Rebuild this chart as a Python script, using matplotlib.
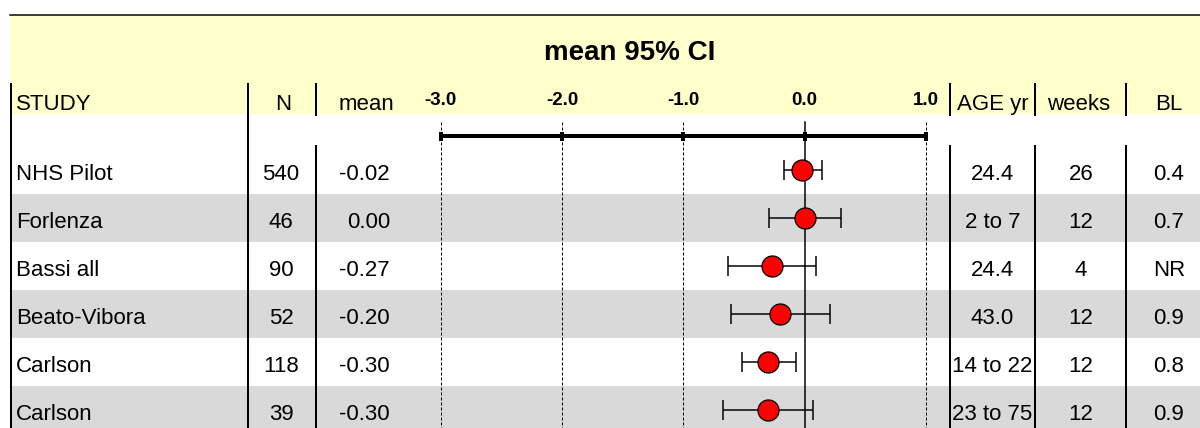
import matplotlib
matplotlib.use("Agg")
import matplotlib.pyplot as plt
from matplotlib.patches import Rectangle

plt.rcParams['font.family'] = ['Liberation Sans', 'DejaVu Sans']

# ---------------- data ----------------
studies = ["NHS Pilot", "Forlenza", "Bassi all", "Beato-Vibora", "Carlson", "Carlson"]
n_vals = ["540", "46", "90", "52", "118", "39"]
means = [-0.02, 0.00, -0.27, -0.20, -0.30, -0.30]
ci_lo = [-0.17, -0.29, -0.63, -0.61, -0.52, -0.67]
ci_hi = [0.14, 0.30, 0.09, 0.21, -0.07, 0.07]
age = ["24.4", "2 to 7", "24.4", "43.0", "14 to 22", "23 to 75"]
weeks = ["26", "12", "4", "12", "12", "12"]
bl = ["0.4", "0.7", "NR", "0.9", "0.8", "0.9"]
ticks = [-3.0, -2.0, -1.0, 0.0, 1.0]
title = "mean 95% CI"
headers = ["STUDY", "N", "mean", "AGE yr", "weeks", "BL"]

# ---------------- layout (pixels) ----------------
W, H = 1200, 428
row0 = 170.0      # centre of first study row
rowh = 48.0
fs = 16
PX = 0.72         # points per pixel at 100 dpi

fig = plt.figure(figsize=(W / 100, H / 100), dpi=100)
bg = fig.add_axes([0, 0, 1, 1])
bg.set_xlim(0, W)
bg.set_ylim(H, 0)
bg.axis('off')

# yellow header
bg.add_patch(Rectangle((10, 15), W - 10, 99, facecolor='#FFFFCC', edgecolor='none', zorder=0))
bg.plot([10, W], [15, 15], color='black', lw=1.5 * PX, zorder=3)

# row bands
for i in range(len(studies)):
    if i % 2 == 1:
        top = row0 - rowh / 2 + i * rowh
        bg.add_patch(Rectangle((11, top), W - 11, rowh, facecolor='#D9D9D9',
                               edgecolor='none', zorder=0))

# vertical separators
lw_sep = 2 * PX
for x in [11, 248.3]:
    bg.plot([x, x], [84, H], color='black', lw=lw_sep, zorder=3)
for x in [315.7, 950, 1035, 1126]:
    bg.plot([x, x], [84, 115], color='black', lw=lw_sep, zorder=3)
    bg.plot([x, x], [146, H], color='black', lw=lw_sep, zorder=3)

# title
bg.text(630, 60, title, ha='center', va='baseline', fontsize=20, fontweight='bold')

# headers
hy = 110
bg.text(16, hy, headers[0], ha='left', va='baseline', fontsize=fs)
bg.text(283, hy, headers[1], ha='center', va='baseline', fontsize=fs)
bg.text(366, hy, headers[2], ha='center', va='baseline', fontsize=fs)
bg.text(992.5, hy, headers[3], ha='center', va='baseline', fontsize=fs)
bg.text(1079, hy, headers[4], ha='center', va='baseline', fontsize=fs)
bg.text(1169, hy, headers[5], ha='center', va='baseline', fontsize=fs)

# table cells
for i in range(len(studies)):
    yb = row0 + i * rowh + 9.5
    bg.text(16, yb, studies[i], ha='left', va='baseline', fontsize=fs)
    bg.text(281, yb, n_vals[i], ha='center', va='baseline', fontsize=fs)
    bg.text(390, yb, f"{means[i]:.2f}", ha='right', va='baseline', fontsize=fs)
    bg.text(992.5, yb, age[i], ha='center', va='baseline', fontsize=fs)
    bg.text(1081, yb, weeks[i], ha='center', va='baseline', fontsize=fs)
    bg.text(1169, yb, bl[i], ha='center', va='baseline', fontsize=fs)

# ---------------- forest axes ----------------
x_left, x_right = 440.7, 926.0
ax = fig.add_axes([x_left / W, 0, (x_right - x_left) / W, 1])
ax.set_xlim(ticks[0], ticks[-1])
ax.set_ylim((H - row0) / rowh, -row0 / rowh)
ax.patch.set_alpha(0)
ax.axis('off')

def py(p):
    return (p - row0) / rowh

y_line_top = py(122)
y_bottom = py(H)
for t in ticks:
    if t == 0:
        ax.plot([t, t], [y_line_top, y_bottom], color='black', lw=1.5 * PX, zorder=2, clip_on=False)
    else:
        ax.plot([t, t], [y_line_top, y_bottom], color='black', lw=1.0 * PX,
                ls=(0, (3, 2)), zorder=2, clip_on=False)

# axis bar
yb_axis = py(136)
ax.plot([ticks[0], ticks[-1]], [yb_axis, yb_axis], color='black', lw=4 * PX, zorder=3,
        clip_on=False, solid_capstyle='butt')
ax.plot(ticks, [yb_axis] * len(ticks), ls='none', marker='|', ms=9 * PX,
        mew=4 * PX, color='black', zorder=3, clip_on=False)

# tick labels
for t in ticks:
    ax.text(t, py(105), f"{t:.1f}", ha='center', va='baseline', fontsize=13.5,
            fontweight='bold', clip_on=False)

rows = list(range(len(studies)))
xerr = [[m - lo for m, lo in zip(means, ci_lo)], [hi - m for m, hi in zip(means, ci_hi)]]
ax.errorbar(means, rows, xerr=xerr, fmt='none', ecolor='black', elinewidth=1.5 * PX,
            capsize=10 * PX, capthick=1.5 * PX, zorder=4)
ax.plot(means, rows, ls='none', marker='o', ms=21 * PX, mfc='#FF0000', mec='black',
        mew=1.3 * PX, zorder=5)

fig.savefig("out.png", dpi=100)
